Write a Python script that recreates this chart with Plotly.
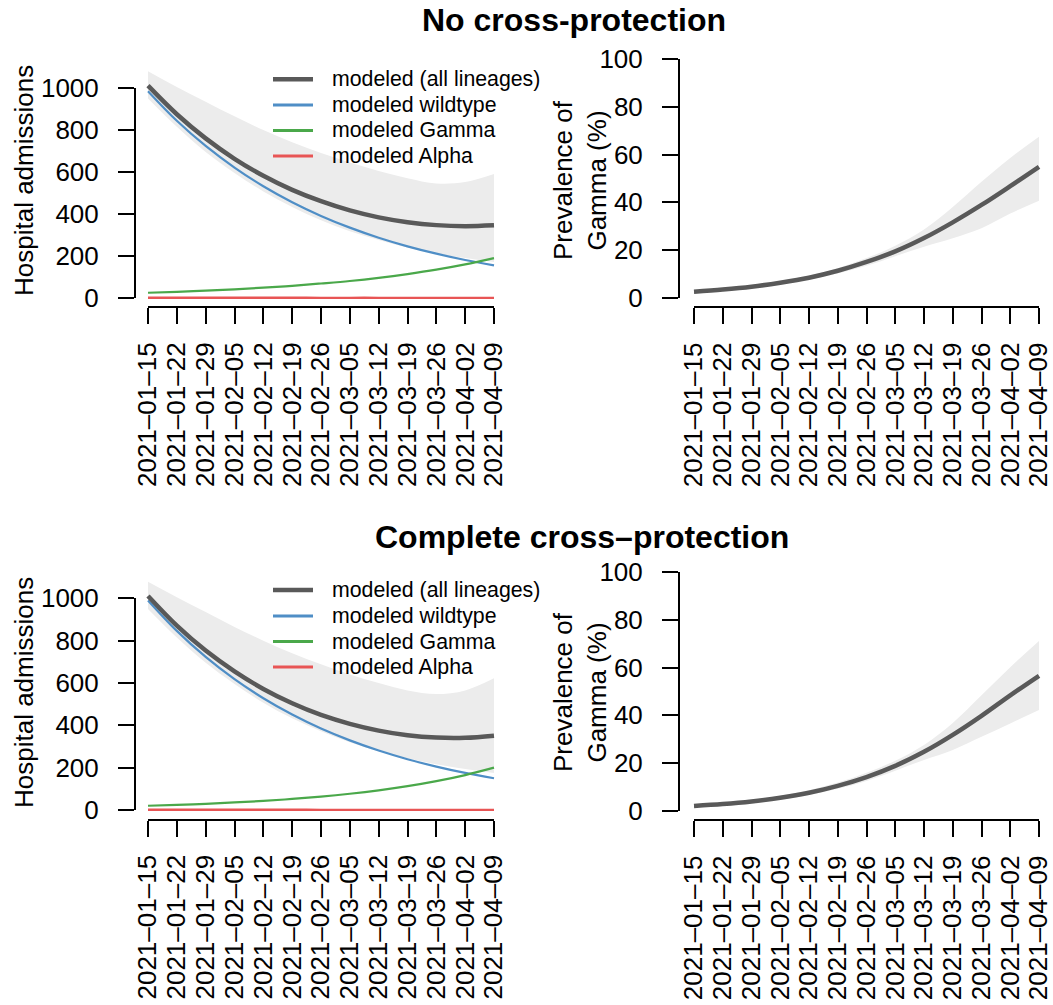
import pandas as pd
import plotly.graph_objects as go

W, H = 1053, 1005
FONT = "Liberation Sans, Arial, Helvetica, sans-serif"

# weekly model dates and their axis labels
dates = pd.date_range("2021-01-15", "2021-04-09", freq="7D")
tick_text = [d.strftime("%Y–%m–%d") for d in dates]
adm_ticks = [0, 200, 400, 600, 800, 1000]
prev_ticks = [0, 20, 40, 60, 80, 100]

series_names = ["modeled (all lineages)", "modeled wildtype", "modeled Gamma", "modeled Alpha"]
panel_titles = ["No cross-protection", "Complete cross–protection"]

# --- No cross-protection ---
nc_all = [1011, 875, 760, 663, 582, 515, 461, 417, 384, 361, 347, 342, 346]
nc_all_lo = [950, 815, 695, 595, 507, 433, 370, 318, 276, 240, 212, 190, 172]
nc_all_hi = [1080, 1005, 935, 865, 800, 742, 690, 645, 605, 570, 545, 552, 590]
nc_wild = [985, 844, 724, 621, 532, 456, 391, 335, 287, 246, 211, 181, 155]
nc_gamma = [25, 29.6, 35, 41.5, 49, 58, 69, 81, 96, 114, 135, 160, 190]
nc_alpha = [1.2, 1.1, 1.0, 1.0, 0.9, 0.9, 0.8, 0.8, 0.8, 0.7, 0.7, 0.7, 0.7]
nc_prev = [2.5, 3.4, 4.6, 6.3, 8.4, 11.3, 15.0, 19.4, 25.0, 31.6, 38.9, 46.8, 54.9]
nc_prev_lo = [2.0, 2.9, 4.0, 5.6, 7.6, 10.2, 13.4, 17.4, 21.4, 24.9, 29.1, 35.3, 40.7]
nc_prev_hi = [3.0, 3.9, 5.2, 7.0, 9.3, 12.4, 16.6, 21.8, 28.6, 38.0, 48.6, 58.6, 67.5]

# --- Complete cross-protection ---
cc_all = [1011, 871, 753, 655, 572, 504, 449, 407, 375, 353, 342, 341, 351]
cc_all_lo = [950, 815, 695, 595, 507, 433, 372, 320, 278, 244, 216, 194, 175]
cc_all_hi = [1078, 1005, 935, 865, 800, 740, 688, 640, 600, 565, 548, 565, 622]
cc_wild = [990, 846, 723, 618, 528, 451, 385, 329, 281, 240, 205, 175, 150]
cc_gamma = [20, 24.2, 29.4, 35.6, 43.1, 52.2, 63.2, 76.6, 92.8, 112.4, 136.2, 165, 200]
cc_alpha = [1.2, 1.1, 1.0, 1.0, 0.9, 0.9, 0.8, 0.8, 0.8, 0.7, 0.7, 0.7, 0.7]
cc_prev = [2.0, 2.8, 3.9, 5.4, 7.5, 10.4, 14.1, 18.8, 24.7, 31.8, 39.8, 48.4, 56.6]
cc_prev_lo = [1.6, 2.3, 3.3, 4.7, 6.6, 9.2, 12.5, 16.8, 21.3, 25.5, 31.0, 36.6, 42.2]
cc_prev_hi = [2.5, 3.4, 4.6, 6.3, 8.6, 11.8, 15.9, 21.0, 27.6, 36.8, 48.4, 60.2, 71.2]

GREY = "#595959"
BAND = "#ececec"
BLUE = "#4f8ec6"
GREEN = "#4aa84a"
RED = "#e85555"
series_colors = [GREY, BLUE, GREEN, RED]
series_widths = [4.5, 2.2, 2.2, 2.4]


def fx(px):
    return px / W


def fy(py):
    return 1 - py / H


# layout of each panel in pixels: tick span on x, tick span on y, axis line positions
panels = [
    dict(xt=(148, 494), yt=(298, 88), yv=(0, 1000), yline=135, xline=307, kind="adm",
         mean=nc_all, lo=nc_all_lo, hi=nc_all_hi, parts=[nc_wild, nc_gamma, nc_alpha]),
    dict(xt=(694, 1039), yt=(297.7, 59.3), yv=(0, 100), yline=679, xline=307.2, kind="prev",
         mean=nc_prev, lo=nc_prev_lo, hi=nc_prev_hi),
    dict(xt=(148, 494), yt=(810, 598.3), yv=(0, 1000), yline=135, xline=819.5, kind="adm",
         mean=cc_all, lo=cc_all_lo, hi=cc_all_hi, parts=[cc_wild, cc_gamma, cc_alpha]),
    dict(xt=(694, 1039), yt=(810.7, 572.3), yv=(0, 100), yline=679, xline=820.2, kind="prev",
         mean=cc_prev, lo=cc_prev_lo, hi=cc_prev_hi),
]

fig = go.Figure()
layout = {}

span_days = (dates[-1] - dates[0]).days
xpad = pd.Timedelta(days=0.04 * span_days)
x_range = [str(dates[0] - xpad), str(dates[-1] + xpad)]

for k, p in enumerate(panels):
    n = k + 1
    d = k + 5
    xr, yr = ("x" if n == 1 else f"x{n}"), ("y" if n == 1 else f"y{n}")
    xkey, ykey = ("xaxis" if n == 1 else f"xaxis{n}"), ("yaxis" if n == 1 else f"yaxis{n}")

    # data area: the tick span widened by 4% on each side
    x0, x1 = p["xt"]
    xpx = (x0 - 0.04 * (x1 - x0), x1 + 0.04 * (x1 - x0))
    v0, v1 = p["yv"]
    if p["kind"] == "adm":
        ymin, ymax = 0, max(p["hi"])
    else:
        ymin, ymax = 0, 100
    ypad = 0.04 * (ymax - ymin)
    ylo, yhi = ymin - ypad, ymax + ypad
    py0, py1 = p["yt"]
    scale = (py1 - py0) / (v1 - v0)
    ypx_lo = py0 + (ylo - v0) * scale
    ypx_hi = py0 + (yhi - v0) * scale

    layout[xkey] = dict(type="date", domain=[fx(xpx[0]), fx(xpx[1])], range=x_range,
                        anchor=yr, visible=False, fixedrange=True, automargin=False)
    layout[ykey] = dict(domain=[fy(ypx_lo), fy(ypx_hi)], range=[ylo, yhi],
                        anchor=xr, visible=False, fixedrange=True, automargin=False)

    # uncertainty band
    fig.add_trace(go.Scatter(x=dates, y=p["lo"], mode="lines", line=dict(width=0, shape="spline"),
                             xaxis=xr, yaxis=yr, showlegend=False, hoverinfo="skip"))
    fig.add_trace(go.Scatter(x=dates, y=p["hi"], mode="lines", line=dict(width=0, shape="spline"),
                             fill="tonexty", fillcolor=BAND,
                             xaxis=xr, yaxis=yr, showlegend=False, hoverinfo="skip"))
    if p["kind"] == "adm":
        for vals, col, lw in zip(p["parts"], series_colors[1:], series_widths[1:]):
            fig.add_trace(go.Scatter(x=dates, y=vals, mode="lines",
                                     line=dict(color=col, width=lw, shape="spline"),
                                     xaxis=xr, yaxis=yr, showlegend=False))
    fig.add_trace(go.Scatter(x=dates, y=p["mean"], mode="lines",
                             line=dict(color=GREY, width=series_widths[0], shape="spline"),
                             xaxis=xr, yaxis=yr, showlegend=False))

    # base-graphics style axes spanning only the tick range
    xdk, ydk = f"xaxis{d}", f"yaxis{d}"
    fig.add_trace(go.Scatter(x=[dates[0]], y=[v0], mode="markers", marker=dict(opacity=0),
                             xaxis=f"x{d}", yaxis=f"y{d}", showlegend=False, hoverinfo="skip"))
    axis_common = dict(ticks="outside", ticklen=16, tickwidth=2, tickcolor="black",
                       showline=True, linewidth=2, linecolor="black", showgrid=False,
                       zeroline=False, fixedrange=True, automargin=False,
                       ticklabeloverflow="allow",
                       tickfont=dict(family=FONT, size=26, color="black"))
    layout[xdk] = dict(type="date", domain=[fx(x0), fx(x1)], range=[dates[0], dates[-1]],
                       anchor="free", position=fy(p["xline"]), tickmode="array",
                       tickvals=list(dates), ticktext=tick_text, tickangle=-90,
                       ticklabelstandoff=8, **axis_common)
    layout[ydk] = dict(domain=[fy(py0), fy(py1)], range=[v0, v1], anchor="free",
                       position=fx(p["yline"]), side="left", tickmode="array",
                       tickvals=adm_ticks if p["kind"] == "adm" else prev_ticks,
                       ticklabelstandoff=14, **axis_common)

annotations = []
# panel titles
annotations.append(dict(text=f"<b>{panel_titles[0]}</b>", x=fx(574), y=fy(20), xref="paper", yref="paper",
                        xanchor="center", yanchor="middle", showarrow=False,
                        font=dict(family=FONT, size=32, color="black")))
annotations.append(dict(text=f"<b>{panel_titles[1]}</b>", x=fx(582), y=fy(537), xref="paper", yref="paper",
                        xanchor="center", yanchor="middle", showarrow=False,
                        font=dict(family=FONT, size=32, color="black")))
# axis titles
for yc in (181, 693):
    annotations.append(dict(text="Hospital admissions", x=fx(24), y=fy(yc), xref="paper", yref="paper",
                            xanchor="center", yanchor="middle", textangle=-90, showarrow=False,
                            font=dict(family=FONT, size=26, color="black")))
for yc in (180, 692):
    annotations.append(dict(text="Prevalence of<br>Gamma (%)", x=fx(580), y=fy(yc), xref="paper",
                            yref="paper", xanchor="center", yanchor="middle", textangle=-90,
                            showarrow=False, font=dict(family=FONT, size=26, color="black")))

# legends
shapes = []
for rows in ([79.3, 105, 130.5, 156], [590, 616, 641.5, 667]):
    for name, col, lw, ry in zip(series_names, series_colors, series_widths, rows):
        shapes.append(dict(type="line", xref="paper", yref="paper", x0=fx(273), x1=fx(313),
                           y0=fy(ry), y1=fy(ry), line=dict(color=col, width=max(lw, 3))))
        annotations.append(dict(text=name, x=fx(330), y=fy(ry), xref="paper", yref="paper",
                                xanchor="left", yanchor="middle", showarrow=False,
                                font=dict(family=FONT, size=21.3, color="black")))

fig.update_layout(
    template="none",
    width=W, height=H, margin=dict(l=0, r=0, t=0, b=0, autoexpand=False),
    paper_bgcolor="white", plot_bgcolor="rgba(0,0,0,0)",
    showlegend=False, annotations=annotations, shapes=shapes,
    font=dict(family=FONT, color="black"),
    **layout,
)

fig.write_html("out.html")
